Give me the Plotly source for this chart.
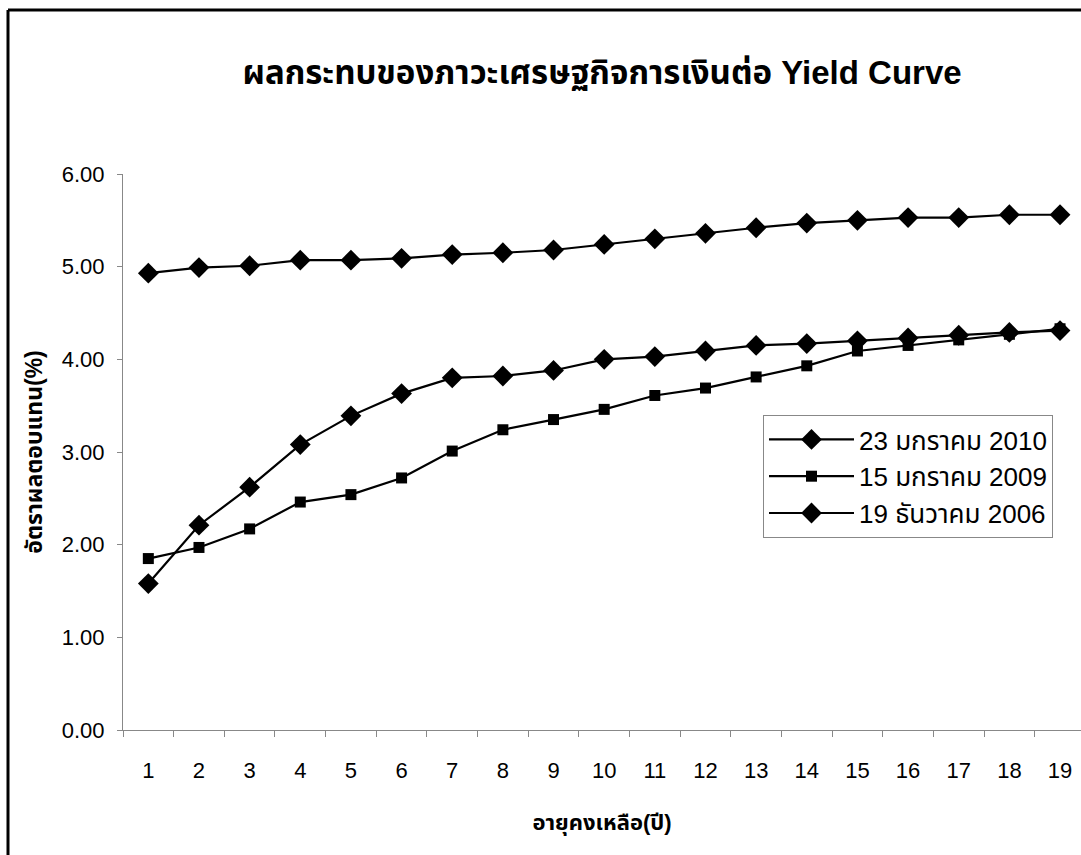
import plotly.graph_objects as go

years = [str(i) for i in range(1, 20)]
s2010_name = "23 มกราคม 2010"
s2010 = [1.58, 2.21, 2.62, 3.08, 3.39, 3.63, 3.80, 3.82, 3.88, 4.00, 4.03, 4.09, 4.15, 4.17, 4.20, 4.23, 4.26, 4.29, 4.31]
s2009_name = "15 มกราคม 2009"
s2009 = [1.85, 1.97, 2.17, 2.46, 2.54, 2.72, 3.01, 3.24, 3.35, 3.46, 3.61, 3.69, 3.81, 3.93, 4.09, 4.15, 4.21, 4.27, 4.33]
s2006_name = "19 ธันวาคม 2006"
s2006 = [4.93, 4.99, 5.01, 5.07, 5.07, 5.09, 5.13, 5.15, 5.18, 5.24, 5.30, 5.36, 5.42, 5.47, 5.50, 5.53, 5.53, 5.56, 5.56]
y_ticks = [0, 1, 2, 3, 4, 5, 6]
title_text = "ผลกระทบของภาวะเศรษฐกิจการเงินต่อ Yield Curve"
x_title = "อายุคงเหลือ(ปี)"
y_title = "อัตราผลตอบแทน(%)"

FONT = "Liberation Sans Narrow, Arial Narrow, Liberation Sans, Arial, Noto Sans Thai, sans-serif"

W, H = 1081, 855
L, T, B = 123, 174, 125
plot_w = W - L
plot_h = H - T - B
cat_px = 50.65
span = plot_w / cat_px

fig = go.Figure()
for name, vals, sym, size in [
    (s2010_name, s2010, "diamond", 16),
    (s2009_name, s2009, "square", 11),
    (s2006_name, s2006, "diamond", 16),
]:
    fig.add_trace(go.Scatter(
        x=years, y=vals, name=name, mode="lines+markers",
        line=dict(color="black", width=2.2),
        marker=dict(symbol=sym, size=size, color="black"),
    ))

def px_x(p):
    return (p - L) / plot_w

def px_y(p):
    return (H - B - p) / plot_h

fig.update_layout(
    width=W, height=H,
    margin=dict(l=L, r=0, t=T, b=B),
    paper_bgcolor="white", plot_bgcolor="white",
    font=dict(family=FONT, color="black", size=20),
    title=dict(text=title_text, x=0.5, xref="paper", xanchor="center",
               y=1 - 72 / H, yanchor="middle",
               font=dict(size=33, family=FONT, weight="bold")),
    xaxis=dict(type="category", range=[-0.5, -0.5 + span],
               showgrid=False, showline=True, linecolor="#888888", linewidth=1,
               ticks="outside", ticklen=6, tickcolor="#888888", tickson="boundaries",
               tickfont=dict(size=22), ticklabelstandoff=21,
               title=dict(text=x_title, font=dict(size=22, weight="bold"), standoff=32),
               zeroline=False),
    yaxis=dict(range=[0, 6], tickvals=y_ticks, tickformat=".2f",
               showgrid=False, showline=True, linecolor="#888888", linewidth=1,
               ticks="outside", ticklen=5, tickcolor="#888888",
               tickfont=dict(size=22), ticklabelstandoff=8,
               title=dict(text=y_title, font=dict(size=23, weight="bold"), standoff=12),
               zeroline=False),
    legend=dict(x=px_x(763), y=px_y(415), xanchor="left", yanchor="top",
                bgcolor="white", bordercolor="#888888", borderwidth=1,
                font=dict(size=26), itemwidth=85, tracegroupgap=0),
    showlegend=True,
    shapes=[
        dict(type="line", xref="paper", yref="paper", x0=px_x(8), x1=px_x(W + 5),
             y0=px_y(10), y1=px_y(10), line=dict(color="black", width=3)),
        dict(type="line", xref="paper", yref="paper", x0=px_x(8), x1=px_x(8),
             y0=px_y(10), y1=px_y(H + 5), line=dict(color="black", width=3)),
    ],
)

fig.write_html(
    "out.html",
    config={"displayModeBar": False},
    post_script="document.body.style.margin='0';document.body.style.overflow='hidden';",
)
